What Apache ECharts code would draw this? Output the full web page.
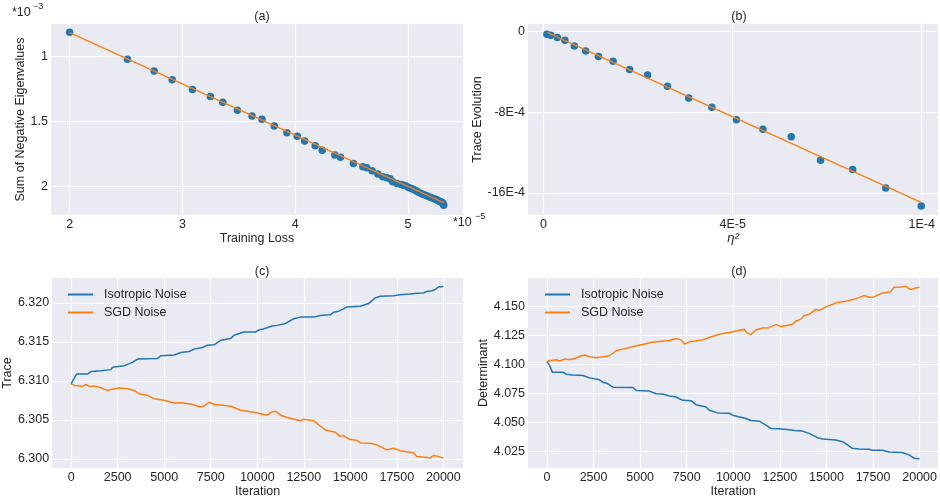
<!DOCTYPE html>
<html>
<head>
<meta charset="utf-8">
<script src="https://cdn.jsdelivr.net/npm/echarts@6/dist/echarts.min.js"></script>
<style>
html,body{margin:0;padding:0;background:#fff;}
#main{width:940px;height:499px;}
</style>
</head>
<body>
<div id="main"></div>
<script>
// ---------- DATA ----------
// (a) training loss (x 1e-5) vs sum of negative eigenvalues (x 1e-3, magnitude)
const aLoss = [2.0,2.513,2.749,2.909,3.089,3.248,3.357,3.487,3.617,3.705,3.814,3.926,4.018,4.083,4.177,4.239,4.351,4.401,4.516,4.599,4.634,4.681,4.732,4.776,4.811,4.841,4.864,4.900,4.938,4.960,4.982,5.005,5.027,5.050,5.071,5.093,5.115,5.137,5.159,5.180,5.204,5.226,5.248,5.262,5.277,5.290,5.301,5.310,5.316];
const aEig  = [0.812,1.021,1.111,1.180,1.255,1.309,1.353,1.415,1.459,1.485,1.536,1.588,1.616,1.652,1.688,1.724,1.760,1.778,1.825,1.851,1.858,1.881,1.907,1.928,1.936,1.943,1.966,1.979,1.987,1.994,2.000,2.010,2.018,2.027,2.036,2.047,2.057,2.064,2.072,2.080,2.088,2.096,2.103,2.110,2.116,2.121,2.126,2.133,2.147];
const aFitX = [2.0, 5.32];
const aFitY = [0.815, 2.13];
const aXTicks = [2,3,4,5];
const aYTicks = [1,1.5,2];

// (b) eta^2 (x 1e-5) vs trace evolution (x 1e-4)
const bEta   = [0.07,0.15,0.29,0.45,0.65,0.89,1.16,1.47,1.82,2.20,2.62,3.07,3.56,4.08,4.64,5.24,5.86,6.54,7.24,7.99];
const bTrace = [-0.26,-0.36,-0.59,-0.86,-1.42,-1.91,-2.47,-2.94,-3.76,-4.29,-5.41,-6.57,-7.49,-8.74,-9.67,-10.43,-12.74,-13.66,-15.51,-17.29];
const bFitX = [0.07, 7.99];
const bFitY = [-0.07, -16.93];
const bXTicks = [0,4,8];
const bXTickLabels = ['0','4E-5','1E-4'];
const bYTicks = [0,-8,-16];
const bYTickLabels = ['0','-8E-4','-16E-4'];

// (c) trace vs iteration
const cIso = [[0,6.30962],[90,6.31004],[300,6.31089],[900,6.31089],[1070,6.31119],[1600,6.31131],[2140,6.31144],[2230,6.31174],[2860,6.31195],[3300,6.31237],[3570,6.31280],[4640,6.31288],[4820,6.31322],[5540,6.31331],[5890,6.31364],[6340,6.31377],[6610,6.31407],[7050,6.31428],[7320,6.31458],[7680,6.31462],[8040,6.31521],[8570,6.31542],[8750,6.31585],[9290,6.31627],[9910,6.31627],[10090,6.31653],[10360,6.31669],[10800,6.31703],[11070,6.31712],[11520,6.31737],[11960,6.31797],[12320,6.31818],[13040,6.31818],[13390,6.31839],[13930,6.31847],[14110,6.31881],[14380,6.31894],[14640,6.31924],[14820,6.31949],[15540,6.31958],[15980,6.31992],[16340,6.32064],[16610,6.32085],[17320,6.32093],[17680,6.32106],[18210,6.32114],[18570,6.32123],[18930,6.32127],[19110,6.32148],[19380,6.32157],[19550,6.32169],[19730,6.32203],[20000,6.32212]];
const cSgd = [[0,6.30962],[180,6.30941],[630,6.30932],[800,6.30953],[980,6.30928],[1250,6.30932],[1610,6.30911],[1930,6.30877],[2140,6.30890],[2590,6.30907],[3040,6.30898],[3390,6.30877],[3660,6.30831],[4110,6.30814],[4460,6.30771],[5000,6.30750],[5540,6.30716],[5890,6.30720],[6430,6.30703],[6960,6.30665],[7140,6.30678],[7410,6.30725],[7680,6.30699],[8570,6.30674],[9110,6.30623],[9820,6.30597],[10540,6.30559],[10800,6.30602],[10980,6.30610],[11250,6.30559],[11610,6.30530],[12320,6.30487],[12500,6.30508],[13040,6.30487],[13660,6.30369],[14200,6.30339],[14460,6.30284],[14640,6.30297],[14910,6.30254],[15360,6.30233],[15540,6.30203],[16070,6.30199],[16430,6.30178],[16960,6.30114],[17320,6.30136],[17680,6.30102],[18390,6.30076],[18570,6.30030],[19110,6.30017],[19290,6.30008],[19460,6.30042],[19730,6.30030],[20000,6.30008]];
const cXTicks = [0,2500,5000,7500,10000,12500,15000,17500,20000];
const cYTicks = [6.300,6.305,6.310,6.315,6.320];

// (d) determinant vs iteration
const dIso = [[0,4.10227],[140,4.09886],[290,4.09318],[860,4.09318],[1040,4.09148],[1390,4.09091],[1930,4.09034],[2290,4.08835],[2820,4.08665],[3000,4.08466],[3270,4.08324],[3540,4.08040],[4610,4.08011],[4790,4.07756],[5500,4.07699],[5860,4.07472],[6210,4.07443],[6570,4.07273],[6930,4.07188],[7290,4.06903],[7730,4.06875],[8000,4.06534],[8540,4.06335],[8710,4.06051],[9160,4.05824],[9790,4.05795],[9960,4.05625],[10410,4.05455],[10680,4.05341],[10950,4.05170],[11390,4.05114],[11750,4.04773],[12020,4.04489],[12460,4.04460],[13000,4.04375],[13270,4.04318],[13710,4.04261],[14070,4.04063],[14250,4.03920],[14520,4.03693],[14790,4.03580],[15500,4.03494],[15860,4.03352],[16130,4.03068],[16390,4.02784],[16750,4.02727],[17290,4.02699],[17460,4.02614],[18000,4.02614],[18360,4.02472],[19070,4.02415],[19430,4.02216],[19700,4.01932],[20000,4.01875]];
const dSgd = [[0,4.10227],[140,4.10313],[500,4.10398],[680,4.10284],[770,4.10227],[950,4.10455],[1210,4.10398],[1570,4.10540],[1840,4.10739],[2020,4.10795],[2290,4.10653],[2640,4.10568],[3000,4.10653],[3360,4.10739],[3710,4.11165],[4070,4.11307],[4430,4.11449],[4790,4.11591],[5140,4.11705],[5590,4.11875],[6040,4.11960],[6570,4.12045],[6930,4.12216],[7200,4.12102],[7380,4.11733],[7640,4.11932],[8360,4.12102],[8710,4.12301],[9250,4.12585],[9790,4.12727],[10140,4.12869],[10590,4.13011],[10710,4.12727],[10950,4.12557],[11210,4.12955],[11570,4.13125],[11930,4.13153],[12290,4.13409],[12550,4.13239],[13180,4.13438],[13360,4.13722],[13620,4.13864],[13800,4.14205],[14070,4.14290],[14430,4.14716],[14610,4.14631],[15050,4.15000],[15320,4.15142],[15500,4.15284],[16040,4.15426],[16570,4.15625],[17020,4.15909],[17290,4.15767],[17550,4.15795],[17910,4.16080],[18450,4.16250],[18630,4.16619],[19070,4.16648],[19250,4.16705],[19520,4.16420],[19790,4.16563],[20000,4.16619]];
const dXTicks = [0,2500,5000,7500,10000,12500,15000,17500,20000];
const dYTicks = [4.025,4.050,4.075,4.100,4.125,4.150];

const seriesNames = ['Isotropic Noise','SGD Noise'];
const titles = ['(a)','(b)','(c)','(d)'];

// ---------- STYLE ----------
const FONT = '"Liberation Sans", Arial, sans-serif';
const TXT = '#262626';
const BLUE = '#1f77b4';
const ORANGE = '#ff7f0e';
const BG = '#EAEAF2';

const zip = (xs, ys) => xs.map((x, i) => [x, ys[i]]);

function axis(gridIndex, opts) {
  return Object.assign({
    gridIndex: gridIndex,
    type: 'value',
    axisLine: {show: false},
    axisTick: {show: false, customValues: opts.ticks},
    splitLine: {show: true, lineStyle: {color: '#ffffff', width: 1.2}},
    axisLabel: {customValues: opts.ticks, color: TXT, fontSize: 12.5, fontFamily: FONT, margin: opts.margin || 3, formatter: opts.formatter},
    nameLocation: 'middle',
    nameTextStyle: Object.assign({color: TXT, fontSize: 12.5, fontFamily: FONT}, opts.nameStyle || {}),
  }, opts.extra);
}

const grids = [
  {left: 51, right: 477, top: 24, bottom: 284},
  {left: 528, right: 2, top: 24, bottom: 284},
  {left: 51, right: 477, top: 278, bottom: 29},
  {left: 528, right: 1, top: 278, bottom: 29}
].map(g => Object.assign(g, {show: true, backgroundColor: BG, borderWidth: 0, containLabel: false}));

const option = {
  animation: false,
  textStyle: {fontFamily: FONT},
  grid: grids,
  title: titles.map((t, i) => ({
    text: t,
    left: [257, 734, 257, 734][i],
    top: [5, 5, 260, 260][i],
    textAlign: 'center',
    textStyle: {fontSize: 12.5, fontWeight: 'normal', color: TXT, fontFamily: FONT}
  })),
  legend: [
    {data: seriesNames, left: 63, top: 283, orient: 'vertical', icon: 'rect', itemWidth: 25, itemHeight: 2, itemGap: 5,
     textStyle: {color: TXT, fontSize: 12.5, fontFamily: FONT, padding: [0,0,0,6]}},
    {data: seriesNames, left: 540, top: 283, orient: 'vertical', icon: 'rect', itemWidth: 25, itemHeight: 2, itemGap: 5,
     textStyle: {color: TXT, fontSize: 12.5, fontFamily: FONT, padding: [0,0,0,6]}}
  ],
  xAxis: [
    axis(0, {ticks: aXTicks, formatter: v => String(v), extra: {min: 1.835, max: 5.487, name: 'Training Loss', nameGap: 16}}),
    axis(1, {ticks: bXTicks, formatter: v => bXTickLabels[bXTicks.indexOf(v)], extra: {min: -0.33, max: 8.345, name: 'η²', nameGap: 14},
             nameStyle: {fontStyle: 'italic', fontSize: 13}}),
    axis(2, {ticks: cXTicks, formatter: v => String(v), extra: {min: -1018, max: 21054, name: 'Iteration', nameGap: 14}}),
    axis(3, {ticks: dXTicks, formatter: v => String(v), extra: {min: -1018, max: 20996, name: 'Iteration', nameGap: 14}})
  ],
  yAxis: [
    axis(0, {ticks: aYTicks, formatter: v => String(v), extra: {min: 0.749, max: 2.223, inverse: true, name: 'Sum of Negative Eigenvalues', nameGap: 22}}),
    axis(1, {ticks: bYTicks, formatter: v => bYTickLabels[bYTicks.indexOf(v)], extra: {min: -18.18, max: 0.76, name: 'Trace Evolution', nameGap: 43}}),
    axis(2, {ticks: cYTicks, formatter: v => v.toFixed(3), extra: {min: 6.2988, max: 6.3232, name: 'Trace', nameGap: 37}}),
    axis(3, {ticks: dYTicks, formatter: v => v.toFixed(3), extra: {min: 4.0108, max: 4.1742, name: 'Determinant', nameGap: 37}})
  ],
  series: [
    {type: 'scatter', xAxisIndex: 0, yAxisIndex: 0, data: zip(aLoss, aEig), symbolSize: 7.5, itemStyle: {color: BLUE, opacity: 1}, z: 2},
    {type: 'line', xAxisIndex: 0, yAxisIndex: 0, data: zip(aFitX, aFitY), showSymbol: false, lineStyle: {color: ORANGE, width: 1.3}, z: 3},
    {type: 'scatter', xAxisIndex: 1, yAxisIndex: 1, data: zip(bEta, bTrace), symbolSize: 7.5, itemStyle: {color: BLUE, opacity: 1}, z: 2},
    {type: 'line', xAxisIndex: 1, yAxisIndex: 1, data: zip(bFitX, bFitY), showSymbol: false, lineStyle: {color: ORANGE, width: 1.3}, z: 3},
    {type: 'line', name: seriesNames[0], xAxisIndex: 2, yAxisIndex: 2, data: cIso, showSymbol: false, color: BLUE, lineStyle: {color: BLUE, width: 1.5}},
    {type: 'line', name: seriesNames[1], xAxisIndex: 2, yAxisIndex: 2, data: cSgd, showSymbol: false, color: ORANGE, lineStyle: {color: ORANGE, width: 1.5}},
    {type: 'line', name: seriesNames[0], xAxisIndex: 3, yAxisIndex: 3, data: dIso, showSymbol: false, color: BLUE, lineStyle: {color: BLUE, width: 1.5}},
    {type: 'line', name: seriesNames[1], xAxisIndex: 3, yAxisIndex: 3, data: dSgd, showSymbol: false, color: ORANGE, lineStyle: {color: ORANGE, width: 1.5}}
  ],
  graphic: [
    {type: 'text', left: 12, top: 6, style: {text: '*10', font: '12.5px ' + FONT, fill: TXT}},
    {type: 'text', left: 33, top: 2, style: {text: '−3', font: '9px ' + FONT, fill: TXT}},
    {type: 'text', left: 453, top: 216, style: {text: '*10', font: '12.5px ' + FONT, fill: TXT}},
    {type: 'text', left: 475, top: 212, style: {text: '−5', font: '9px ' + FONT, fill: TXT}}
  ]
};

const chart = echarts.init(document.getElementById('main'), null, {renderer: 'canvas'});
chart.setOption(option);
</script>
</body>
</html>
